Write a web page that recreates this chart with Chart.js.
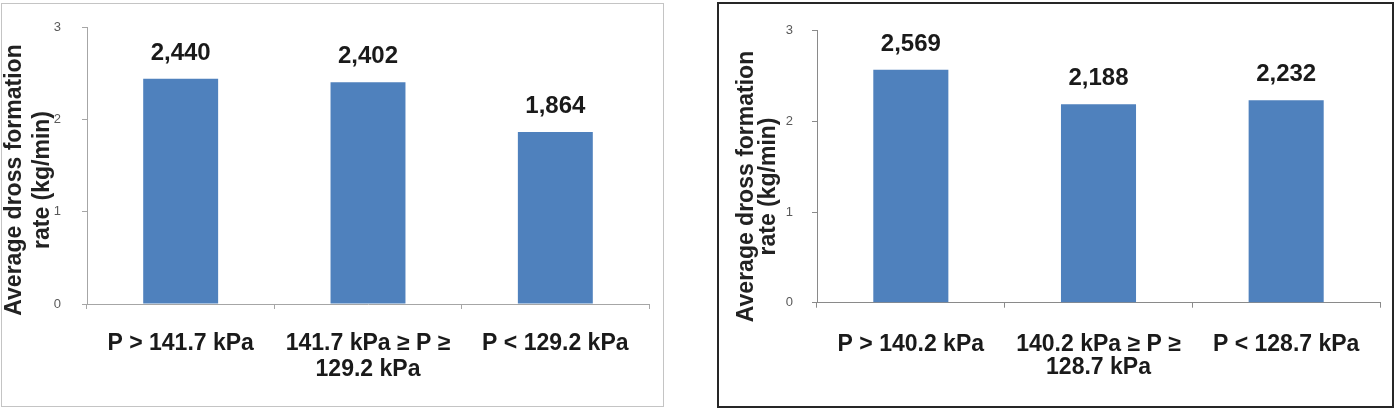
<!DOCTYPE html>
<html>
<head>
<meta charset="utf-8">
<script src="https://cdn.jsdelivr.net/npm/chart.js@4.4.0/dist/chart.umd.min.js"></script>
<style>
  html, body { margin: 0; padding: 0; background: #fff; }
  body { width: 1398px; height: 408px; position: relative; overflow: hidden; }
  .panel { position: absolute; box-sizing: border-box; background: #fff; }
  #panel-a { left: 1px; top: 3px; width: 663px; height: 404px; border: 1px solid #c4c4c4; }
  #panel-b { left: 717px; top: 2px; width: 677px; height: 406px; border: 2px solid #262626; }
  canvas { position: absolute; left: 0; top: 0; }
</style>
</head>
<body>
<div class="panel" id="panel-a"><canvas id="chart-a" width="661" height="402"></canvas></div>
<div class="panel" id="panel-b"><canvas id="chart-b" width="673" height="402"></canvas></div>
<script>
// data
const categoriesA = ['P > 141.7 kPa', ['141.7 kPa \u2265 P \u2265', '129.2 kPa'], 'P < 129.2 kPa'];
const valuesA = [2.440, 2.402, 1.864];

const categoriesB = ['P > 140.2 kPa', ['140.2 kPa \u2265 P \u2265', '128.7 kPa'], 'P < 128.7 kPa'];
const valuesB = [2.569, 2.188, 2.232];

const yTicks = [0, 1, 2, 3];
const yTitle = ['Average dross formation', 'rate (kg/min)'];

(function() {
    'use strict';

    const FONT = '"Liberation Sans", Arial, sans-serif';
    const BAR_COLOR = '#4f81bd';

    // 2,440 style (decimal comma)
    function formatValue(v) {
        return v.toFixed(3).replace('.', ',');
    }

    const valueLabels = {
        id: 'valueLabels',
        afterDatasetsDraw(chart, args, opts) {
            const ctx = chart.ctx;
            const meta = chart.getDatasetMeta(0);
            const data = chart.data.datasets[0].data;
            ctx.save();
            ctx.font = 'bold 24px ' + FONT;
            ctx.fillStyle = '#1a1a1a';
            ctx.textAlign = 'center';
            ctx.textBaseline = 'alphabetic';
            meta.data.forEach((bar, i) => {
                ctx.fillText(formatValue(data[i]), bar.x, bar.y - opts.offset);
            });
            ctx.restore();
        }
    };

    // rotated two-line axis title, centred on the whole panel height
    const sideTitle = {
        id: 'sideTitle',
        afterDraw(chart, args, opts) {
            const ctx = chart.ctx;
            ctx.save();
            ctx.font = 'bold 23px ' + FONT;
            ctx.fillStyle = '#222';
            ctx.textAlign = 'center';
            ctx.textBaseline = 'alphabetic';
            ctx.translate(0, opts.centerY);
            ctx.rotate(-Math.PI / 2);
            opts.lines.forEach((line, i) => {
                ctx.fillText(line, 0, opts.baselines[i]);
            });
            ctx.restore();
        }
    };

    function makeChart(id, labels, values, cfg) {
        const ctx = document.getElementById(id).getContext('2d');
        return new Chart(ctx, {
            type: 'bar',
            data: {
                labels: labels,
                datasets: [{
                    data: values,
                    backgroundColor: BAR_COLOR,
                    borderWidth: 0,
                    barPercentage: 0.4,
                    categoryPercentage: 1.0
                }]
            },
            options: {
                responsive: false,
                animation: false,
                layout: {
                    padding: { left: 0, right: cfg.padRight, top: cfg.padTop, bottom: 0 }
                },
                scales: {
                    x: {
                        grid: { drawOnChartArea: false, drawTicks: true, tickLength: 5, color: cfg.axisColor, offset: true },
                        border: { color: cfg.axisColor, width: 1 },
                        ticks: {
                            autoSkip: false,
                            maxRotation: 0,
                            minRotation: 0,
                            padding: cfg.xPad,
                            color: '#1a1a1a',
                            font: { family: FONT, size: 23, weight: 'bold', lineHeight: cfg.xLineHeight }
                        },
                        afterFit: function(scale) { scale.height = cfg.xHeight; }
                    },
                    y: {
                        min: yTicks[0],
                        max: yTicks[yTicks.length - 1],
                        grid: { drawOnChartArea: false, drawTicks: true, tickLength: 5, color: cfg.axisColor },
                        border: { color: cfg.axisColor, width: 1 },
                        ticks: {
                            stepSize: 1,
                            padding: cfg.yPad,
                            color: '#595959',
                            font: { family: FONT, size: 13 }
                        },
                        afterFit: function(scale) {
                            scale.width = cfg.yWidth;
                            // let layout.padding alone decide the top of the plot
                            scale.paddingTop = 0;
                            scale.paddingBottom = 0;
                        }
                    }
                },
                plugins: {
                    legend: { display: false },
                    tooltip: { enabled: false },
                    valueLabels: { offset: 19 },
                    sideTitle: { lines: yTitle, baselines: cfg.titleBaselines, centerY: cfg.titleCenterY }
                }
            },
            plugins: [valueLabels, sideTitle]
        });
    }

    makeChart('chart-a', categoriesA, valuesA, {
        axisColor: '#a6a6a6',
        padRight: 14, padTop: 23,
        xHeight: 102, yWidth: 85,
        xPad: 21, xLineHeight: 1.15,
        yPad: 21,
        titleBaselines: [18.7, 47.3], titleCenterY: 176
    });

    makeChart('chart-b', categoriesB, valuesB, {
        axisColor: '#8a8a8a',
        padRight: 12, padTop: 26.7,
        xHeight: 103.3, yWidth: 98,
        xPad: 25, xLineHeight: 1.0,
        yPad: 19,
        titleBaselines: [33.7, 56], titleCenterY: 182.5
    });
})();
</script>
</body>
</html>
